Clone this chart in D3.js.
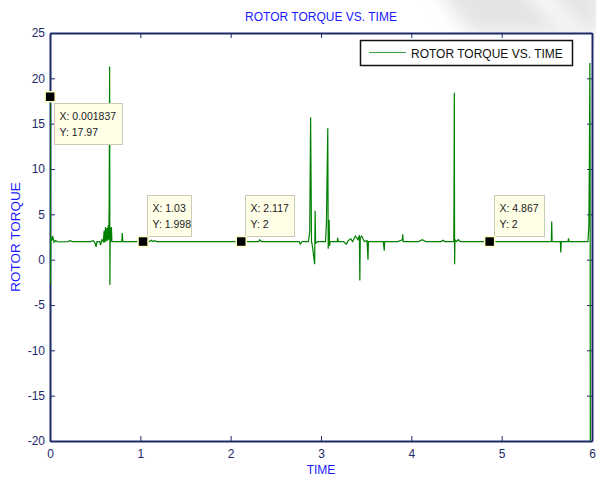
<!DOCTYPE html>
<html>
<head>
<meta charset="utf-8">
<script src="https://cdn.jsdelivr.net/npm/d3@7"></script>
<style>
  html, body { margin: 0; padding: 0; background: #fff; }
  svg { display: block; font-family: Arial, "Liberation Sans", sans-serif; }
</style>
</head>
<body>
<svg id="chart" width="596" height="478"></svg>
<script>
// Sampled rotor torque signal: time [s] and torque
const time = [
  0.001837, 0.0045, 0.008, 0.02, 0.03, 0.045, 0.06, 0.09, 0.2, 0.22, 0.25,
  0.45, 0.48, 0.50, 0.51, 0.52, 0.55, 0.56, 0.575, 0.59, 0.60, 0.605, 0.615,
  0.62, 0.63, 0.635, 0.645, 0.65, 0.655, 0.66, 0.663, 0.667, 0.675, 0.68,
  0.685, 0.7, 0.795, 0.80, 0.805, 1.0, 1.03, 1.1, 1.12, 1.14, 1.16, 1.18,
  2.117, 2.31, 2.32, 2.34, 2.76, 2.77, 2.79, 2.86, 2.875, 2.885, 2.895,
  2.905, 2.93, 2.935, 2.94, 2.96, 3.05, 3.06, 3.075, 3.08, 3.09, 3.095, 3.1,
  3.18, 3.185, 3.19, 3.25, 3.28, 3.30, 3.33, 3.35, 3.38, 3.41, 3.425, 3.43,
  3.435, 3.45, 3.48, 3.51, 3.52, 3.525, 3.69, 3.70, 3.705, 3.85, 3.90, 3.905,
  3.91, 4.08, 4.12, 4.16, 4.33, 4.35, 4.37, 4.47, 4.473, 4.476, 4.479, 4.483,
  4.5, 4.52, 4.54, 4.867, 5.55, 5.554, 5.558, 5.65, 5.654, 5.66, 5.735, 5.74,
  5.745, 5.955, 5.965, 5.972, 5.976, 5.979, 5.982
];
const torque = [
  17.97, -2.8, 2.5, 2.1, 2.6, 1.9, 2.1, 1.95, 2.0, 2.1, 2.0,
  2.0, 2.1, 1.8, 1.4, 2.0, 2.0, 1.6, 2.2, 2.0, 3.2, 1.9, 3.6,
  2.0, 3.5, 2.1, 3.8, 2.2, 5.8, 21.3, -2.8, 3.5, 2.0, 3.6,
  2.0, 2.0, 2.0, 2.95, 2.0, 2.0, 1.998, 2.0, 2.15, 2.0, 2.1, 2.0,
  2.0, 2.0, 2.2, 2.0, 2.0, 1.7, 2.0, 2.0, 3.0, 15.7, 2.0,
  1.5, -0.5, 5.4, 1.8, 2.0, 2.0, 4.0, 14.5, 1.2, 4.4, 1.5, 2.0,
  2.0, 2.4, 2.0, 2.0, 1.7, 2.1, 2.3, 2.0, 2.6, 2.2, 2.7, -2.3,
  2.4, 2.6, 2.0, 2.1, 0.0, 2.0, 2.0, 1.0, 2.0, 2.0, 2.2, 2.8,
  2.0, 2.0, 2.2, 2.0, 2.0, 2.15, 2.0, 2.0, 7.9, 18.4, -0.5, 2.2,
  2.0, 2.2, 2.0, 2.0, 2.0, 4.2, 2.0, 2.0, 0.8, 2.0, 2.0, 2.35,
  2.0, 2.0, 3.6, 12.0, 21.7, 12.5, -22
];

// Data cursors placed on the trace
const tipX = [0.001837, 1.03, 2.117, 4.867];
const tipY = [17.97, 1.998, 2, 2];
const tipXText = ["0.001837", "1.03", "2.117", "4.867"];
const tipYText = ["17.97", "1.998", "2", "2"];
// tip box placement relative to its marker: below-right or above-right
const tipSide = ["below", "above", "above", "above"];

const xTicks = [0, 1, 2, 3, 4, 5, 6];
const yTicks = [25, 20, 15, 10, 5, 0, -5, -10, -15, -20];

const titleText = "ROTOR TORQUE VS. TIME";
const xLabel = "TIME";
const yLabel = "ROTOR TORQUE";
const legendText = "ROTOR TORQUE VS. TIME";

const axisColor = "#1c2a6a";
const lineColor = "#008000";

const svg = d3.select("#chart");
const W = 596, H = 478;
const m = { left: 50, right: 4, top: 33, bottom: 37 };
const pw = W - m.left - m.right;   // 542
const ph = H - m.top - m.bottom;   // 408

// faint grey smudge in the top-right background
const defs = svg.append("defs");
defs.append("filter").attr("id", "soft")
  .attr("x", "-50%").attr("y", "-50%").attr("width", "200%").attr("height", "200%")
  .append("feGaussianBlur").attr("stdDeviation", 9);
svg.append("path")
  .attr("d", "M430,-20 L600,-20 L600,34 L470,34 Z")
  .attr("fill", "#dcdcdc").attr("opacity", 0.75).attr("filter", "url(#soft)");
svg.append("path")
  .attr("d", "M520,-10 L545,-10 L585,30 L565,30 Z")
  .attr("fill", "#ffffff").attr("opacity", 0.9).attr("filter", "url(#soft)");

const x = d3.scaleLinear().domain([0, 6]).range([m.left, m.left + pw]);
const y = d3.scaleLinear().domain([-20, 25]).range([m.top + ph, m.top]);

defs.append("clipPath").attr("id", "plotclip")
  .append("rect").attr("x", m.left).attr("y", m.top).attr("width", pw).attr("height", ph);

// plot background
svg.append("rect").attr("x", m.left).attr("y", m.top).attr("width", pw).attr("height", ph)
  .attr("fill", "#fff");

// axes with inward ticks on all four sides
const tickLen = 5;
const fmt = d => String(d);
const bottomAxis = d3.axisBottom(x).tickValues(xTicks).tickFormat(fmt)
  .tickSizeInner(-tickLen).tickSizeOuter(0).tickPadding(8);
const topAxis = d3.axisTop(x).tickValues(xTicks).tickFormat("")
  .tickSizeInner(-tickLen).tickSizeOuter(0);
const leftAxis = d3.axisLeft(y).tickValues(yTicks).tickFormat(fmt)
  .tickSizeInner(-tickLen).tickSizeOuter(0).tickPadding(5);
const rightAxis = d3.axisRight(y).tickValues(yTicks).tickFormat("")
  .tickSizeInner(-tickLen).tickSizeOuter(0);

function styleAxis(g) {
  g.select(".domain").attr("stroke", axisColor).attr("stroke-width", 2);
  g.selectAll(".tick line").attr("stroke", axisColor).attr("stroke-width", 1);
  g.selectAll(".tick text").attr("fill", axisColor).attr("font-size", 12)
    .attr("font-family", "Arial, 'Liberation Sans', sans-serif");
}

svg.append("g").attr("transform", `translate(0,${m.top + ph})`).call(bottomAxis).call(styleAxis);
svg.append("g").attr("transform", `translate(0,${m.top})`).call(topAxis).call(styleAxis);
svg.append("g").attr("transform", `translate(${m.left},0)`).call(leftAxis).call(styleAxis);
svg.append("g").attr("transform", `translate(${m.left + pw},0)`).call(rightAxis).call(styleAxis);

// signal trace, drawn over the frame so the edge spikes stay visible
const pts = time.map((t, i) => [t, torque[i]]);
svg.append("path")
  .datum(pts)
  .attr("clip-path", "url(#plotclip)")
  .attr("fill", "none")
  .attr("stroke", lineColor)
  .attr("stroke-width", 1.2)
  .attr("stroke-linejoin", "miter")
  .attr("d", d3.line().x(d => x(d[0])).y(d => y(d[1])));

// title and axis labels
svg.append("text").attr("x", m.left + pw / 2).attr("y", 21)
  .attr("text-anchor", "middle").attr("fill", "#1a1aff").attr("font-size", 12)
  .text(titleText);
svg.append("text").attr("x", m.left + pw / 2).attr("y", 474)
  .attr("text-anchor", "middle").attr("fill", "#1a1aff").attr("font-size", 12)
  .text(xLabel);
svg.append("text")
  .attr("transform", `translate(20,${m.top + ph / 2}) rotate(-90)`)
  .attr("text-anchor", "middle").attr("fill", "#1a1aff").attr("font-size", 13.5)
  .text(yLabel);

// legend
const lg = svg.append("g").attr("transform", "translate(360,40)");
lg.append("rect").attr("x", 0.5).attr("y", 0.5).attr("width", 212).attr("height", 25)
  .attr("fill", "#fff").attr("stroke", "#111").attr("stroke-width", 1.5);
lg.append("line").attr("x1", 9).attr("x2", 46).attr("y1", 12.5).attr("y2", 12.5)
  .attr("stroke", "#3fa33f").attr("stroke-width", 1.2);
lg.append("text").attr("x", 51).attr("y", 17.5).attr("fill", "#111")
  .attr("font-size", 12).text(legendText);

// data cursor markers and tip boxes
tipX.forEach((tx, i) => {
  const px = x(tx), py = y(tipY[i]);
  const g = svg.append("g");
  const line1 = "X: " + tipXText[i];
  const line2 = "Y: " + tipYText[i];
  const tmp = g.append("text").attr("font-size", 10.5).text(line1);
  const tw = Math.max(tmp.node().getComputedTextLength(), 30);
  tmp.remove();
  const bw = Math.round(tw + 11), bh = 41;
  const bx = Math.round(px) + 4.5;
  const by = tipSide[i] === "below" ? Math.round(py) + 6.5 : Math.round(py) - 46.5;
  g.append("rect").attr("x", bx).attr("y", by).attr("width", bw).attr("height", bh)
    .attr("fill", "#ffffe8").attr("stroke", "#c9c9b6").attr("stroke-width", 1);
  g.append("text").attr("x", bx + 5).attr("y", by + 16).attr("fill", "#222")
    .attr("font-size", 10.5).text(line1);
  g.append("text").attr("x", bx + 5).attr("y", by + 32).attr("fill", "#222")
    .attr("font-size", 10.5).text(line2);
  g.append("rect").attr("x", px - 5).attr("y", py - 5).attr("width", 10).attr("height", 10)
    .attr("fill", "#000").attr("stroke", "#ffffc8").attr("stroke-width", 1.5);
});
</script>
</body>
</html>
